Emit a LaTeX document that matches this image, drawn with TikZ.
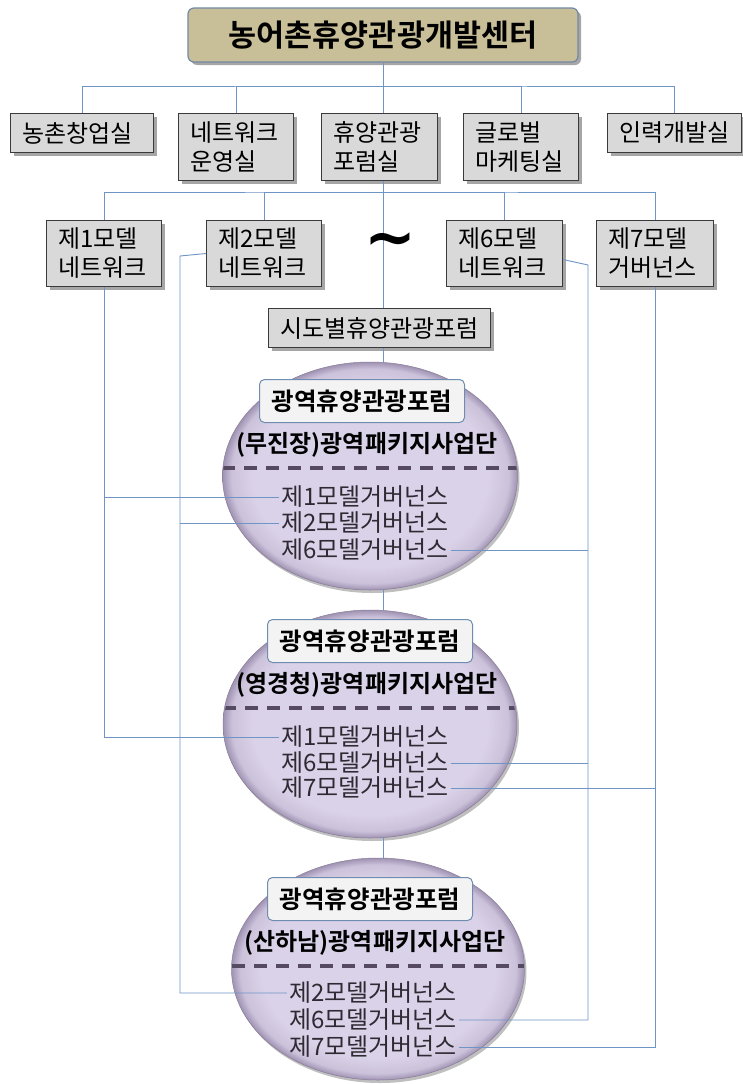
\documentclass[tikz,border=0pt]{standalone}
\usepackage{fontspec}
\setmainfont{Noto Sans CJK KR}[BoldFont={Noto Sans CJK KR Bold}]
\newfontfamily\wavefont{DejaVu Sans}
\usetikzlibrary{shapes.geometric,shadows}
\definecolor{linkblue}{HTML}{6F94C6}
\definecolor{boxfill}{HTML}{D9D9D9}
\definecolor{boxline}{HTML}{3A3A3A}
\definecolor{headfill}{HTML}{C8BF98}
\definecolor{headline}{HTML}{7189A6}
\definecolor{ellin}{HTML}{DAD2E8}
\definecolor{ellout}{HTML}{A093B3}
\definecolor{tagfill}{HTML}{F3F3F4}
\definecolor{tagline}{HTML}{6F8DB0}
\definecolor{dashgray}{HTML}{564A62}
\definecolor{itemgray}{HTML}{2E2A33}
\pgfdeclareradialshading{ellshade}{\pgfpoint{0bp}{0bp}}{color(0bp)=(ellin); color(20bp)=(ellin); color(23.5bp)=(ellin!75!ellout); color(25bp)=(ellout); color(50bp)=(ellout)}
\tikzset{
 link/.style={draw=linkblue,line width=.9pt},
 boxshadow/.style={drop shadow={shadow xshift=3pt,shadow yshift=-3pt,fill=black,opacity=.35}},
 head/.style={draw=headline,fill=headfill,line width=1.2pt,rounded corners=6pt,minimum width=390pt,minimum height=54pt,font=\fontsize{30.5}{32}\selectfont\bfseries,boxshadow},
 unit/.style={draw=boxline,fill=boxfill,line width=1pt,anchor=north west,align=left,inner xsep=12pt,inner ysep=1pt,font=\fontsize{24}{29}\selectfont,boxshadow},
 forum/.style={unit,align=center,inner xsep=0pt},
 region/.style={ellipse,shading=ellshade,inner sep=0pt,draw=ellout!85!black,line width=.5pt,drop shadow={shadow xshift=2pt,shadow yshift=-3pt,fill=black,opacity=.25}},
 tag/.style={draw=tagline,fill=tagfill,line width=1pt,rounded corners=5pt,minimum width=205pt,minimum height=43pt,font=\fontsize{24.5}{26}\selectfont\bfseries},
 group/.style={font=\fontsize{24}{26}\selectfont\bfseries,inner sep=0pt},
 divider/.style={draw=dashgray,line width=3.2pt,dash pattern=on 13pt off 9pt},
 item/.style={font=\fontsize{24}{26}\selectfont,text=itemgray,inner sep=2pt}
}
\begin{document}
\begin{tikzpicture}[x=1pt,y=-1pt]
\path[use as bounding box,fill=white] (0,0) rectangle (743,1084);
% centre and offices
\node[head] (head) at (383,35) {농어촌휴양관광개발센터};
\node[unit,text width=119pt,minimum height=39pt] (a1) at (10,113) {농촌창업실};
\node[unit,text width=91pt,minimum height=67pt] (a2) at (178,113) {네트워크\\운영실};
\node[unit,text width=92pt,minimum height=67pt] (a3) at (321,113) {휴양관광\\포럼실};
\node[unit,text width=91pt,minimum height=67pt] (a4) at (463,113) {글로벌\\마케팅실};
\node[unit,text width=110pt,minimum height=39pt] (a5) at (607,113) {인력개발실};
% model networks
\node[unit,text width=91pt,minimum height=66pt] (b1) at (46,220) {제1모델\\네트워크};
\node[unit,text width=91pt,minimum height=66pt] (b2) at (206,220) {제2모델\\네트워크};
\node[unit,text width=92pt,minimum height=66pt] (b6) at (446,220) {제6모델\\네트워크};
\node[unit,text width=93pt,minimum height=66pt] (b7) at (596,220) {제7모델\\거버넌스};
\node[forum,text width=222pt,minimum height=39pt] (sido) at (268,308) {시도별휴양관광포럼};
\coordinate (bus1) at (383,86);
\coordinate (bus2) at (383,192);
\coordinate (k2) at (180,256);
\coordinate (k6) at (588,265);
\draw[link] (head.south) -- (bus1);
\draw[link] (a1.north) |- (bus1) -| (a5.north);
\draw[link] (bus1) -| (a2.north);
\draw[link] (bus1) -| (a4.north);
\draw[link] (bus1) -- (bus1 |- a3.north);
\draw[link] (b1.north) |- (bus2) -| (b7.north);
\draw[link] (bus2) -| (b2.north);
\draw[link] (bus2) -| (b6.north);
\draw[link] (bus1 |- a3.south) -- (bus1 |- sido.north);
\node[font=\wavefont\fontsize{62}{62}\selectfont\bfseries,inner sep=0pt] (wave) at (390,246) {\char"007E};
% regional forums
\node[region,minimum width=295pt,minimum height=228pt] (e1) at (370,476) {};
\node[region,minimum width=294pt,minimum height=228pt] (e2) at (370,724) {};
\node[region,minimum width=293pt,minimum height=222pt] (e3) at (378,969) {};
\draw[link] (bus1 |- sido.south) -- (bus1 |- e1.north);
\draw[link] (bus1 |- e1.south) -- (bus1 |- e2.north);
\draw[link] (bus1 |- e2.south) -- (bus1 |- e3.north);
\begin{scope}
\clip (370,476) ellipse (147pt and 113pt);
\draw[divider] (222,468) -- (518,468);
\end{scope}
\begin{scope}
\clip (370,724) ellipse (146pt and 113pt);
\draw[divider] (223,708) -- (517,708);
\end{scope}
\begin{scope}
\clip (378,969) ellipse (146pt and 110pt);
\draw[divider] (232,966) -- (525,966);
\end{scope}
\node[tag] (t1) at (362,401) {광역휴양관광포럼};
\node[group] (p1) at (367,445) {(무진장)광역패키지사업단};
\node[item] (g11) at (365,497) {제1모델거버넌스};
\node[item] (g12) at (365,523) {제2모델거버넌스};
\node[item] (g13) at (365,550) {제6모델거버넌스};
\node[tag] (t2) at (370,641) {광역휴양관광포럼};
\node[group] (p2) at (367,685) {(영경청)광역패키지사업단};
\node[item] (g21) at (365,737) {제1모델거버넌스};
\node[item] (g22) at (365,763) {제6모델거버넌스};
\node[item] (g23) at (365,788) {제7모델거버넌스};
\node[tag] (t3) at (370,899) {광역휴양관광포럼};
\node[group] (p3) at (375,943) {(산하남)광역패키지사업단};
\node[item] (g31) at (373,993) {제2모델거버넌스};
\node[item] (g32) at (373,1020) {제6모델거버넌스};
\node[item] (g33) at (373,1047) {제7모델거버넌스};
% model links
\draw[link] (b1.south) |- (g21.west);
\draw[link] (b1.south |- g11.west) -- (g11.west);
\draw[link] (b2.west) -- (k2) |- (g31.west);
\draw[link] (k2 |- g12.west) -- (g12.west);
\draw[link] ([yshift=-6pt]b6.east) -- (k6) |- (g32.east);
\draw[link] (k6 |- g13.east) -- (g13.east);
\draw[link] (k6 |- g22.east) -- (g22.east);
\draw[link] (b7.south) |- (g33.east);
\draw[link] (b7.south |- g23.east) -- (g23.east);
\end{tikzpicture}
\end{document}
